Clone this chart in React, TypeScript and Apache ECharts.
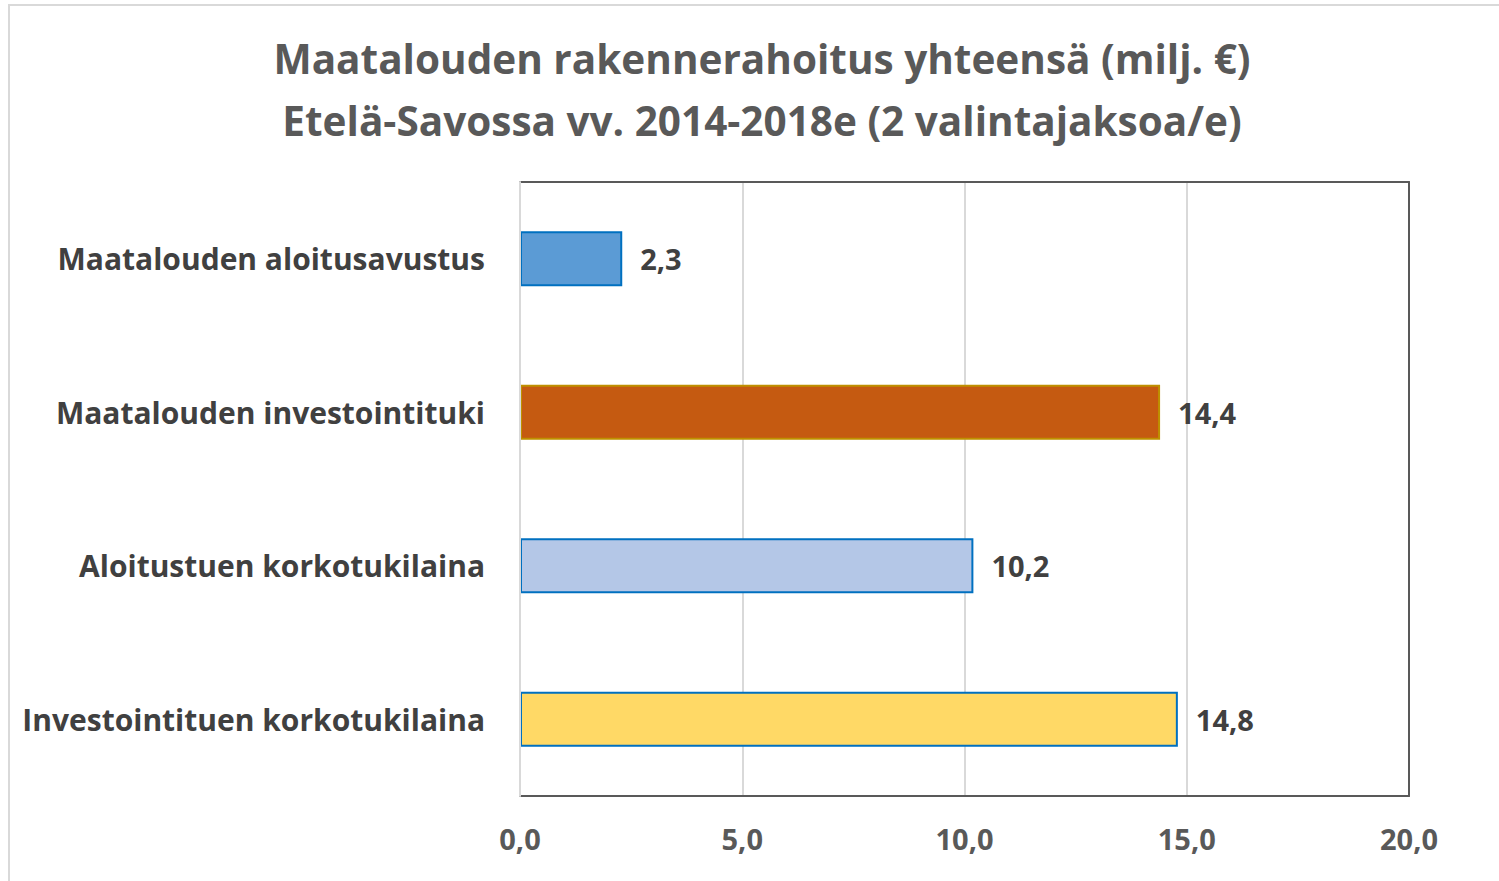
import React, { useEffect, useRef } from "react";
import * as echarts from "echarts";

const categories = [
  "Maatalouden aloitusavustus",
  "Maatalouden investointituki",
  "Aloitustuen korkotukilaina",
  "Investointituen korkotukilaina",
];
const values = [2.3, 14.4, 10.2, 14.8];
const fillColors = ["#5b9bd5", "#c55a11", "#b4c7e7", "#ffd966"];
const borderColors = ["#0070c0", "#bf9000", "#0070c0", "#0070c0"];
const titleText = "Maatalouden rakennerahoitus yhteensä (milj. €)\nEtelä-Savossa vv. 2014-2018e (2 valintajaksoa/e)";

const FONT = "Open Sans";
const fmt = (v: number) => v.toFixed(1).replace(".", ",");

export default function App() {
  const ref = useRef<HTMLDivElement>(null);
  useEffect(() => {
    if (!ref.current) return;
    const chart = echarts.init(ref.current, undefined, { renderer: "svg" });
    chart.setOption({
      animation: false,
      backgroundColor: "#ffffff",
      textStyle: { fontFamily: FONT },
      title: {
        text: titleText,
        left: 757,
        textAlign: "center",
        top: 22,
        textStyle: {
          fontFamily: FONT,
          fontSize: 40.5,
          fontWeight: "bold",
          color: "#595959",
          lineHeight: 62,
        },
      },
      graphic: [
        {
          type: "rect",
          shape: { x: 9, y: 5, width: 1600, height: 1000 },
          style: { fill: "none", stroke: "#d9d9d9", lineWidth: 2 },
          silent: true,
        },
      ],
      grid: {
        left: 520,
        top: 182,
        width: 889,
        height: 614,
        show: false,
        containLabel: false,
      },
      xAxis: [
        {
          type: "value",
          min: 0,
          max: 20,
          interval: 5,
          axisLine: { show: true, lineStyle: { color: "#595959", width: 2 } },
          axisTick: { show: false },
          splitLine: { show: true, lineStyle: { color: "#d9d9d9", width: 2 } },
          axisLabel: {
            formatter: (v: number) => fmt(v),
            fontSize: 29,
            fontWeight: "bold",
            color: "#595959",
            margin: 28,
            fontFamily: FONT,
          },
        },
        {
          type: "value",
          position: "top",
          min: 0,
          max: 20,
          interval: 5,
          axisLine: { show: true, onZero: false, lineStyle: { color: "#595959", width: 2 } },
          axisTick: { show: false },
          splitLine: { show: false },
          axisLabel: { show: false },
        },
      ],
      yAxis: [
        {
          type: "category",
          data: categories,
          inverse: true,
          axisLine: { show: true, onZero: false, lineStyle: { color: "#d9d9d9", width: 2 } },
          axisTick: { show: false },
          axisLabel: {
            fontSize: 30,
            fontWeight: "bold",
            color: "#404040",
            margin: 35,
            fontFamily: FONT,
          },
          z: 5,
        },
        {
          type: "category",
          data: categories,
          inverse: true,
          position: "right",
          axisLine: { show: true, onZero: false, lineStyle: { color: "#595959", width: 2 } },
          axisTick: { show: false },
          axisLabel: { show: false },
          splitLine: { show: false },
          z: 5,
        },
      ],
      series: [
        {
          type: "bar",
          barWidth: 55,
          data: values.map((v, i) => ({
            value: v,
            itemStyle: {
              color: fillColors[i],
              borderColor: borderColors[i],
              borderWidth: 2,
            },
          })),
          label: {
            show: true,
            position: "right",
            distance: 18,
            formatter: (p: any) => fmt(p.value),
            fontSize: 29,
            fontWeight: "bold",
            color: "#404040",
            fontFamily: FONT,
          },
        },
      ],
    });
    return () => chart.dispose();
  }, []);
  return (
    <div
      ref={ref}
      style={{ position: "fixed", left: 0, top: 0, width: 1499, height: 881 }}
    />
  );
}
